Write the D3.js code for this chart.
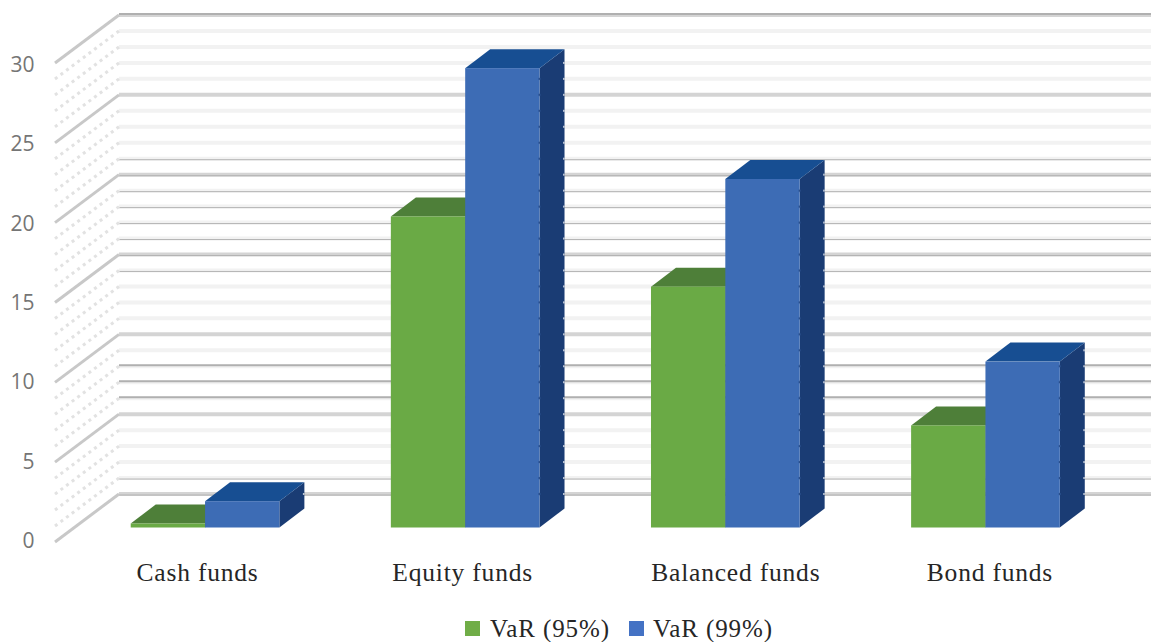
<!DOCTYPE html>
<html>
<head>
<meta charset="utf-8">
<script src="https://cdn.jsdelivr.net/npm/d3@7"></script>
<style>
  html, body { margin: 0; padding: 0; background: #fff; }
  svg { display: block; }
  .tick-label { font-family: "Open Sans", sans-serif; font-size: 21px; fill: #757575; }
  .cat-label { font-family: "Liberation Serif", serif; font-size: 25.5px; fill: #262626; letter-spacing: 0.8px; }
  .legend-label { font-family: "Liberation Serif", serif; font-size: 25px; fill: #262626; letter-spacing: 0.9px; }
</style>
</head>
<body>
<div id="chart"></div>
<script>
const categories = ['Cash funds', 'Equity funds', 'Balanced funds', 'Bond funds'];
const seriesNames = ['VaR (95%)', 'VaR (99%)'];
const var95 = [0.25, 19.5, 15.1, 6.4];
const var99 = [1.65, 28.8, 21.85, 10.4];
const yTicks = [0, 5, 10, 15, 20, 25, 30];
const minorTicks = d3.range(0, 31);

const width = 1151, height = 642;
const colors = {
  front: ['#6aaa45', '#3d6cb5'],
  top: ['#4e7f39', '#174e92'],
  side: ['#3f6a2e', '#1a3c74']
};

const svg = d3.select('#chart').append('svg').attr('width', width).attr('height', height);

// front wall edge of the 3d box, back wall is shifted by depth
const wall = { x: 55, y0: 542, y30: 63, dx: 64, dy: -48 };
const y = d3.scaleLinear().domain([0, 30]).range([wall.y0, wall.y30]);
const labelY = d3.scaleLinear().domain([0, 30]).range([548.3, 71.7]);

// bars stand partway into the box
const barBase = 527.5;
const barY = d3.scaleLinear().domain([0, 30]).range([barBase, barBase - 478.5]);
const x0 = d3.scaleBand().domain(categories).range([75, 1115.5]).paddingInner(0.4285).paddingOuter(0.2142);
const x1 = d3.scaleBand().domain(seriesNames).range([0, x0.bandwidth()]);
const depth = { dx: 25, dy: -19 };

// resampled gridlines in the source: some carry a thin darker edge
const edgeBelow = [0, 1, 14, 15, 16, 17, 18, 19, 20, 21];
const edgeAbove = [6, 7, 8, 30];

// Gridlines
const grid = svg.append('g');
minorTicks.forEach(v => {
  const major = v % 5 === 0;
  const by = y(v) + wall.dy;
  grid.append('line')
    .attr('x1', wall.x + wall.dx).attr('x2', width)
    .attr('y1', by).attr('y2', by)
    .attr('stroke', major ? '#d4d4d4' : '#f2f2f2')
    .attr('stroke-width', 4);
  if (edgeBelow.includes(v)) {
    grid.append('line')
      .attr('x1', wall.x + wall.dx).attr('x2', width)
      .attr('y1', by + 1).attr('y2', by + 1)
      .attr('stroke', '#b4b4b4').attr('stroke-width', 1);
  }
  if (edgeAbove.includes(v)) {
    grid.append('line')
      .attr('x1', wall.x + wall.dx).attr('x2', width)
      .attr('y1', by - 1).attr('y2', by - 1)
      .attr('stroke', '#b0b0b0').attr('stroke-width', 2);
  }
  grid.append('line')
    .attr('x1', wall.x).attr('x2', wall.x + wall.dx)
    .attr('y1', y(v)).attr('y2', by)
    .attr('stroke', major ? '#c8c8c8' : '#e2e2e2')
    .attr('stroke-width', 3)
    .attr('stroke-dasharray', major ? null : '3 4');
});

// Axis labels
svg.append('g').selectAll('text').data(yTicks).join('text')
  .attr('class', 'tick-label')
  .attr('x', 34.5).attr('text-anchor', 'end')
  .attr('y', d => labelY(d))
  .text(d => d);

// Bars
const series = [var95, var99];
const barPath = pts => d3.line()(pts) + 'Z';
categories.forEach((cat, i) => {
  const g = svg.append('g');
  // blue overlaps green
  series.forEach((vals, s) => {
    const left = x0(cat) + x1(seriesNames[s]);
    const right = left + x1.bandwidth();
    const top = barY(vals[i]);
    g.append('path').attr('fill', colors.side[s]).attr('d', barPath([
      [right, top], [right + depth.dx, top + depth.dy], [right + depth.dx, barBase + depth.dy], [right, barBase]
    ]));
    g.append('path').attr('fill', colors.top[s]).attr('d', barPath([
      [left, top], [left + depth.dx, top + depth.dy], [right + depth.dx, top + depth.dy], [right, top]
    ]));
    g.append('rect').attr('fill', colors.front[s])
      .attr('x', left).attr('y', top).attr('width', x1.bandwidth()).attr('height', barBase - top);

    // notches left by the gridlines along the blue bar edges
    if (s === 1) {
      minorTicks.filter(v => y(v) + wall.dy > top + depth.dy + 4 && y(v) + wall.dy < barBase + depth.dy).forEach(v => {
        const ny = y(v) + wall.dy;
        g.append('rect').attr('x', right + depth.dx - 1.5).attr('y', ny - 1).attr('width', 1.5).attr('height', 2)
          .attr('fill', '#fff').attr('opacity', 0.7);
        if (ny > top) {
          g.append('rect').attr('x', right - 1).attr('y', ny - 1).attr('width', 2).attr('height', 2)
            .attr('fill', '#2a4f8c');
        }
      });
    }
  });
});

// Category labels
const labelNudge = [-7.5, -2.5, 10.5, 4.5];
svg.append('g').selectAll('text').data(categories).join('text')
  .attr('class', 'cat-label')
  .attr('text-anchor', 'middle')
  .attr('x', (d, i) => x0(d) + x0.bandwidth() / 2 + labelNudge[i])
  .attr('y', 581)
  .text(d => d);

// Legend
const legendX = [465, 629];
seriesNames.forEach((name, s) => {
  svg.append('rect').attr('x', legendX[s]).attr('y', 621).attr('width', 15).attr('height', 15).attr('fill', s ? '#4472c4' : '#70ad47');
  svg.append('text').attr('class', 'legend-label').attr('x', legendX[s] + (s ? 24 : 25)).attr('y', 636.5).text(name);
});
</script>
</body>
</html>
